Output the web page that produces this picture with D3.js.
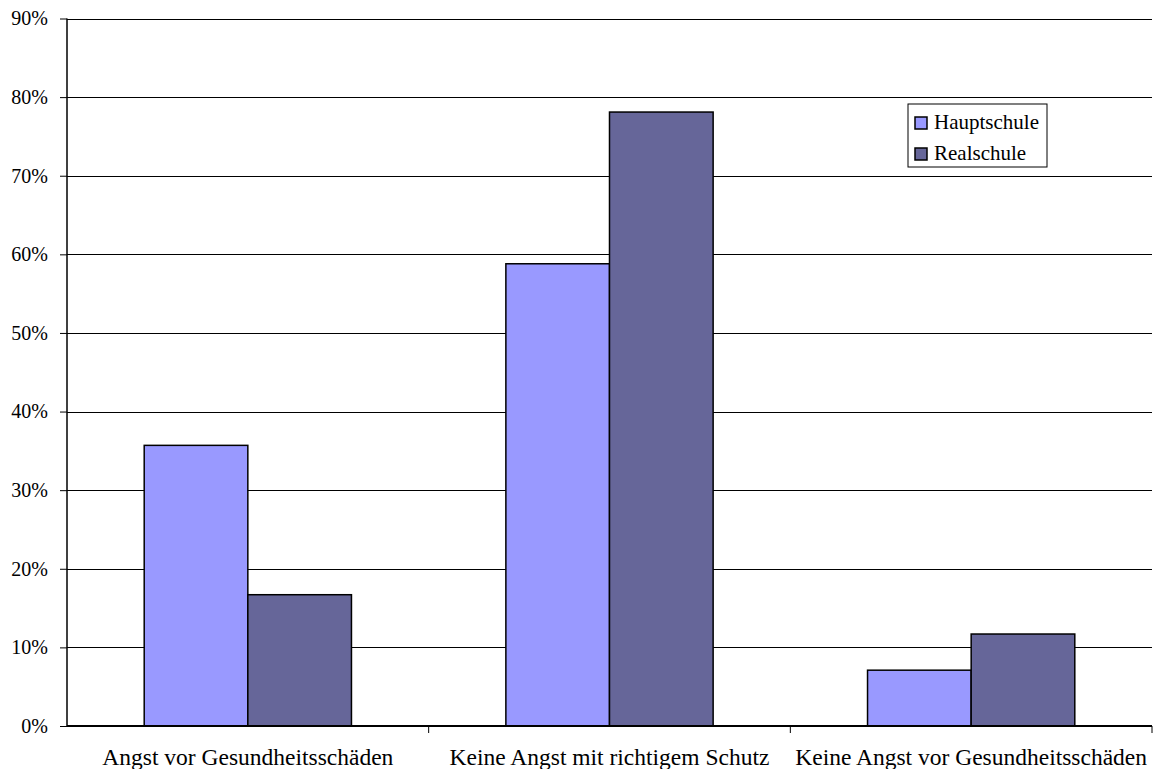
<!DOCTYPE html>
<html>
<head>
<meta charset="utf-8">
<script src="https://cdn.jsdelivr.net/npm/d3@7"></script>
<style>
  html, body { margin: 0; padding: 0; background: #fff; }
  svg { display: block; }
  text { font-family: "Liberation Serif", "Times New Roman", serif; fill: #000; }
</style>
</head>
<body>
<svg id="chart" width="1155" height="769"></svg>
<script>
// Antworten nach Schulart
const categories = ["Angst vor Gesundheitsschäden", "Keine Angst mit richtigem Schutz", "Keine Angst vor Gesundheitsschäden"];
const seriesNames = ["Hauptschule", "Realschule"];
const hauptschule = [0.357, 0.588, 0.071];
const realschule = [0.167, 0.781, 0.117];
const yTicks = [0, 0.1, 0.2, 0.3, 0.4, 0.5, 0.6, 0.7, 0.8, 0.9];
const colors = ["#9999FF", "#666699"];

const svg = d3.select("#chart");
const plotLeft = 67, plotRight = 1152, plotTop = 18.5, plotBottom = 726;

const x0 = d3.scaleBand().domain(categories).range([plotLeft, plotRight]).paddingInner(0).paddingOuter(0);
const x1 = d3.scaleBand().domain(seriesNames).range([0, x0.bandwidth()]).paddingInner(0).paddingOuter(0.745);
const y = d3.scaleLinear().domain([0, 0.9]).range([plotBottom, plotTop]);

// horizontal gridlines
svg.append("g")
  .selectAll("line")
  .data(yTicks.filter(d => d > 0))
  .join("line")
  .attr("x1", plotLeft).attr("x2", plotRight)
  .attr("y1", d => Math.round(y(d)) + 0.5).attr("y2", d => Math.round(y(d)) + 0.5)
  .attr("stroke", "#000").attr("stroke-width", 1);

// bars
const rows = categories.map((c, i) => ({ cat: c, vals: [hauptschule[i], realschule[i]] }));
const groups = svg.append("g")
  .selectAll("g")
  .data(rows)
  .join("g")
  .attr("transform", d => `translate(${x0(d.cat)},0)`);
groups.selectAll("rect")
  .data(d => d.vals.map((v, j) => ({ name: seriesNames[j], v, j })))
  .join("rect")
  .attr("x", d => x1(d.name))
  .attr("width", x1.bandwidth())
  .attr("y", d => y(d.v))
  .attr("height", d => y(0) - y(d.v))
  .attr("fill", d => colors[d.j])
  .attr("stroke", "#000")
  .attr("stroke-width", 1.5);

// y axis
const yAxis = d3.axisLeft(y).tickValues(yTicks).tickFormat(d3.format(".0%")).tickSize(7).tickPadding(12);
const gy = svg.append("g").attr("transform", `translate(${plotLeft},0)`).call(yAxis);
gy.attr("font-family", null);
gy.select(".domain").attr("stroke", "#000").attr("stroke-width", 1.5).attr("d", `M0,${plotTop}V${plotBottom}`);
gy.selectAll(".tick line").attr("stroke", "#000");
gy.selectAll("text").style("font-size", "20px");

// x axis
const xAxis = d3.axisBottom(x0).tickSize(0).tickFormat("");
const gx = svg.append("g").attr("transform", `translate(0,${plotBottom})`).call(xAxis);
gx.select(".domain").attr("stroke", "#000").attr("stroke-width", 2).attr("d", `M${plotLeft},0H${plotRight}`);
gx.selectAll(".sep")
  .data(categories)
  .join("line")
  .attr("class", "sep")
  .attr("x1", d => x0(d) + x0.bandwidth()).attr("x2", d => x0(d) + x0.bandwidth())
  .attr("y1", 0).attr("y2", 7)
  .attr("stroke", "#000");
svg.append("g")
  .selectAll("text")
  .data(categories)
  .join("text")
  .attr("x", d => x0(d) + x0.bandwidth() / 2)
  .attr("y", 765)
  .attr("text-anchor", "middle")
  .style("font-size", "23.5px")
  .text(d => d);

// legend
const lg = svg.append("g").attr("transform", "translate(908,104)");
lg.append("rect").attr("width", 139).attr("height", 63).attr("fill", "#fff").attr("stroke", "#000");
seriesNames.forEach((name, i) => {
  lg.append("rect").attr("x", 7).attr("y", 13 + i * 31).attr("width", 12).attr("height", 12)
    .attr("fill", colors[i]).attr("stroke", "#000").attr("stroke-width", 1.5);
  lg.append("text").attr("x", 26).attr("y", 25 + i * 31).style("font-size", "21px").text(name);
});
</script>
</body>
</html>
